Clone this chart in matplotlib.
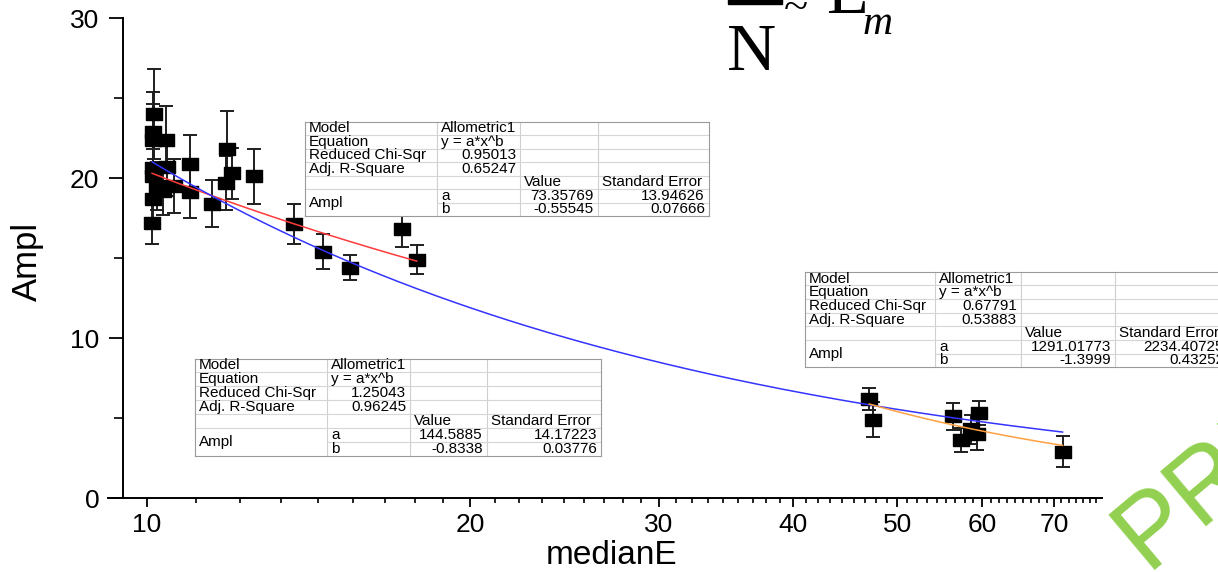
import numpy as np
import matplotlib
matplotlib.use("Agg")
import matplotlib.pyplot as plt
from matplotlib.patches import Rectangle
from matplotlib.lines import Line2D
from matplotlib.ticker import FixedLocator, NullFormatter

plt.rcParams['font.family'] = ['Liberation Sans', 'DejaVu Sans']

# ---------------------------------------
# Data
# ---------------------------------------

# low-energy group
e_low = [10.15, 10.12, 10.14, 10.41, 10.12, 10.43, 10.14, 10.21, 10.35, 10.12,
         10.60, 10.97, 10.97, 11.49, 11.87, 11.99, 11.84, 12.58, 10.11, 13.71,
         14.59, 15.46, 17.28, 17.84]
a_low = [24.0, 22.9, 22.4, 22.4, 20.6, 20.7, 20.1, 19.5, 19.2, 18.7,
         19.5, 20.9, 19.1, 18.4, 21.8, 20.3, 19.7, 20.1, 17.2, 17.1,
         15.4, 14.4, 16.8, 14.9]
err_low = [2.8, 2.5, 2.2, 2.1, 1.8, 1.8, 1.7, 1.5, 1.5, 1.3,
           1.7, 1.8, 1.6, 1.45, 2.4, 1.6, 1.7, 1.7, 1.3, 1.25,
           1.1, 0.8, 1.1, 0.9]

# high-energy group
e_high = [47.1, 47.5, 56.4, 59.6, 57.4, 58.6, 59.3, 71.3]
a_high = [6.2, 4.9, 5.1, 5.3, 3.6, 4.3, 4.0, 2.9]
err_high = [0.7, 1.1, 0.85, 0.75, 0.75, 0.9, 1.0, 0.95]

# Allometric1 fit parameters (a, b) shown in the tables
fit_low = (73.35769, -0.55545)
fit_all = (144.5885, -0.8338)
fit_high = (1291.01773, -1.3999)

x_ticks = [10, 20, 30, 40, 50, 60, 70]
y_ticks = [0, 10, 20, 30]

table_low = [
    ["Model", "Allometric1", "", ""],
    ["Equation", "y = a*x^b", "", ""],
    ["Reduced Chi-Sqr", "0.95013", "", ""],
    ["Adj. R-Square", "0.65247", "", ""],
    ["", "", "Value", "Standard Error"],
    ["Ampl", "a", "73.35769", "13.94626"],
    ["", "b", "-0.55545", "0.07666"],
]
table_high = [
    ["Model", "Allometric1", "", ""],
    ["Equation", "y = a*x^b", "", ""],
    ["Reduced Chi-Sqr", "0.67791", "", ""],
    ["Adj. R-Square", "0.53883", "", ""],
    ["", "", "Value", "Standard Error"],
    ["Ampl", "a", "1291.01773", "2234.40725"],
    ["", "b", "-1.3999", "0.43252"],
]
table_all = [
    ["Model", "Allometric1", "", ""],
    ["Equation", "y = a*x^b", "", ""],
    ["Reduced Chi-Sqr", "1.25043", "", ""],
    ["Adj. R-Square", "0.96245", "", ""],
    ["", "", "Value", "Standard Error"],
    ["Ampl", "a", "144.5885", "14.17223"],
    ["", "b", "-0.8338", "0.03776"],
]

# ---------------------------------------
# Figure
# ---------------------------------------

W, H = 1218, 572
fig = plt.figure(figsize=(W / 100, H / 100), dpi=100)
fig.patch.set_facecolor("white")

ax = fig.add_axes([108 / W, (H - 498) / H, (1102 - 108) / W, 480 / H])
ax.set_xscale("log")
ax.set_xlim(9.198, 77.6)
ax.set_ylim(0, 30)

for s in ["top", "right"]:
    ax.spines[s].set_visible(False)
ax.spines["left"].set_position(("data", 9.498))
for s in ["left", "bottom"]:
    ax.spines[s].set_linewidth(1.4)

# error bars, markers, fit curves
box = [(-1, -0.73), (1, -0.73), (1, 0.73), (-1, 0.73), (-1, -0.73)]
for ex, ey, ee in [(e_low, a_low, err_low), (e_high, a_high, err_high)]:
    ax.errorbar(ex, ey, yerr=ee, fmt="none", ecolor="#1e1e1e",
                elinewidth=1.4, capsize=5, capthick=1.4, zorder=2)
    ax.plot(ex, ey, ls="none", marker=box, ms=11, color="black", zorder=3)

e_all = e_low + e_high
for xs, (a, b), col in [(e_low, fit_low, "#ff3b3b"),
                        (e_all, fit_all, "#3434ff"),
                        (e_high, fit_high, "#ffa040")]:
    xx = np.geomspace(min(xs), max(xs), 200)
    ax.plot(xx, a * xx ** b, color=col, lw=1.1, zorder=4)

# ticks
ax.set_xticks(x_ticks, labels=[str(v) for v in x_ticks])
minors = [m + k * 10 / 9 for m in range(10, 80, 10) for k in range(1, 9)]
ax.xaxis.set_minor_locator(FixedLocator([v for v in minors if v < 77.6]))
ax.xaxis.set_minor_formatter(NullFormatter())
ax.set_yticks(y_ticks, labels=[str(v) for v in y_ticks])
ax.yaxis.set_minor_locator(FixedLocator([5, 15, 25]))

ax.tick_params(axis="x", which="major", direction="out", length=6.5, width=1.3,
               labelsize=19, pad=4.5)
ax.tick_params(axis="x", which="minor", direction="out", length=3.6, width=1.2)
ax.tick_params(axis="y", which="major", direction="out", length=10, width=1.3,
               labelsize=19, pad=7)
ax.tick_params(axis="y", which="minor", direction="out", length=6.5, width=1.2)

fig.text(612 / W, 1 - 556 / H, "medianE", ha="center", va="center", fontsize=24)
fig.text(27 / W, 1 - 261 / H, "Ampl", ha="center", va="center", fontsize=25,
         rotation=90)

# ---------------------------------------
# Fit result tables
# ---------------------------------------


def is_num(s):
    try:
        float(s)
        return True
    except ValueError:
        return False


def draw_table(x0, y0, widths, rh, rows):
    n = len(rows)
    tw = sum(widths)
    edges = np.cumsum([x0] + widths)
    fig.add_artist(Rectangle((x0 / W, 1 - (y0 + n * rh) / H), tw / W, n * rh / H,
                             transform=fig.transFigure, facecolor="white",
                             edgecolor="none", zorder=5))

    def hline(xa, xb, y, c):
        fig.add_artist(Line2D([xa / W, xb / W], [1 - y / H, 1 - y / H],
                              transform=fig.transFigure, color=c, lw=0.8, zorder=6))

    def vline(x, ya, yb, c):
        fig.add_artist(Line2D([x / W, x / W], [1 - ya / H, 1 - yb / H],
                              transform=fig.transFigure, color=c, lw=0.8, zorder=6))

    for xe in edges[1:-1]:
        vline(xe, y0, y0 + n * rh, "#cfcfcf")
    for i in range(1, n):
        start = edges[1] if i == n - 1 else edges[0]
        hline(start, edges[-1], y0 + i * rh, "#d6d6d6")
    hline(edges[0], edges[-1], y0, "#9a9a9a")
    hline(edges[0], edges[-1], y0 + n * rh, "#9a9a9a")
    vline(edges[0], y0, y0 + n * rh, "#9a9a9a")
    vline(edges[-1], y0, y0 + n * rh, "#9a9a9a")

    for i, row in enumerate(rows):
        for j, s in enumerate(row):
            if not s:
                continue
            yc = y0 + (i + 0.5) * rh
            if j == 0 and i == n - 2:
                yc = y0 + (i + 1) * rh
            if is_num(s):
                xt, ha = edges[j + 1] - 4, "right"
            else:
                xt, ha = edges[j] + 4, "left"
            fig.text(xt / W, 1 - yc / H, s, ha=ha, va="center",
                     fontsize=11, zorder=7)


draw_table(305, 121.7, [132, 83, 78, 111], 13.5, table_low)
draw_table(805, 271.7, [130, 86, 94, 113], 13.66, table_high)
draw_table(195, 358.5, [132, 83, 77, 114], 13.9, table_all)

# ---------------------------------------
# Pasted formula fragment and watermark
# ---------------------------------------

serif = ["Liberation Serif", "DejaVu Serif"]
fig.add_artist(Rectangle((728 / W, 1 - 4 / H), 54 / W, 8 / H,
                         transform=fig.transFigure, color="black", zorder=8))
fig.text(752 / W, 1 - 70 / H, "N", ha="center", va="baseline",
         fontsize=49, family=serif)
fig.text(796 / W, 1 - 20 / H, "~", ha="center", va="baseline",
         fontsize=32, family=serif)
fig.text(826 / W, 1 - 13 / H, "E", ha="left", va="baseline",
         fontsize=49, family=serif)
fig.text(863 / W, 1 - 34 / H, "m", ha="left", va="baseline",
         fontsize=30, family=serif, style="italic")

fig.text(1147 / W, 1 - 570 / H, "PREVIEW", rotation=40, rotation_mode="anchor",
         ha="left", va="baseline", fontsize=74, color="#92d050", zorder=10)

fig.savefig("out.png", dpi=100)
